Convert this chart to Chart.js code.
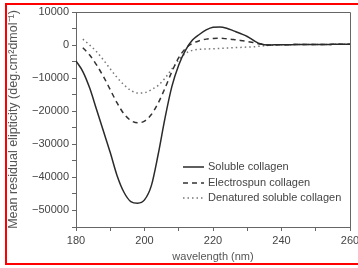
<!DOCTYPE html>
<html lang="en">
<head>
    <meta charset="UTF-8">
    <title>CD spectra of collagen</title>
    <script src="https://cdn.jsdelivr.net/npm/chart.js"></script>
    <style>
        html, body { margin: 0; padding: 0; background: #fff; overflow: hidden; }
        #wrap { position: relative; width: 358px; height: 268px; overflow: hidden; }
        #frame {
            position: absolute; left: 5px; top: 3px; width: 420px; height: 258px;
            border: 2px solid #f00; pointer-events: none;
        }
    </style>
</head>
<body>
<div id="wrap">
    <canvas id="myChart" width="358" height="268"></canvas>
    <div id="frame"></div>
</div>
<script>
    // wavelength (nm)
    const wavelengths = [180, 182, 184, 186, 188, 190, 192, 194, 196, 198,
                         200, 202, 204, 206, 208, 210, 212, 214, 216, 218,
                         220, 222, 224, 226, 228, 230, 232, 234, 236, 238,
                         240, 242, 244, 246, 248, 250, 252, 254, 256, 258, 260];

    const soluble = [-4800, -8000, -13000, -19500, -26000, -32500, -39500, -44500, -47300, -47800,
                     -46800, -42500, -33000, -22000, -12500, -6000, -1500, 1500, 3200, 4600,
                     5400, 5500, 5100, 4300, 3500, 2600, 1300, 300, 0, 100,
                     100, 100, 150, 150, 150, 200, 200, 200, 250, 250, 250];

    const electrospun = [null, -800, -3000, -6000, -9500, -13500, -17500, -20800, -22800, -23500,
                         -23000, -21000, -17500, -13000, -8000, -3800, -1000, 500, 1300, 1800,
                         2000, 2050, 1900, 1700, 1400, 1100, 700, 300, 0, 100,
                         100, 100, 150, 150, 150, 200, 200, 200, 250, 250, 250];

    const denatured = [null, 1800, 0, -2000, -4500, -7200, -9800, -12000, -13700, -14500,
                       -14400, -13500, -12200, -10000, -7200, -4500, -2500, -1600, -1300, -1200,
                       -1100, -1000, -900, -800, -700, -600, -500, -300, -100, 0,
                       100, 100, 150, 150, 150, 200, 200, 200, 250, 250, 250];

    const seriesNames = ['Soluble collagen', 'Electrospun collagen', 'Denatured soluble collagen'];

    const xTicks = [180, 200, 220, 240, 260];
    const yTicks = [10000, 0, -10000, -20000, -30000, -40000, -50000];

    const FONT = 'Liberation Sans, Arial, sans-serif';

    function pts(vals) {
        return wavelengths.map((w, i) => ({ x: w, y: vals[i] }));
    }

    // frame on top/right + legend inside the plot
    const boxAndLegend = {
        id: 'boxAndLegend',
        afterDraw(chart) {
            const ctx = chart.ctx;
            const a = chart.chartArea;
            ctx.save();
            ctx.strokeStyle = '#666';
            ctx.lineWidth = 1;
            ctx.beginPath();
            ctx.moveTo(a.left, a.top + 0.5);
            ctx.lineTo(a.right + 0.5, a.top + 0.5);
            ctx.lineTo(a.right + 0.5, a.bottom);
            ctx.stroke();

            const rows = [167, 183, 198];
            ctx.font = '11px ' + FONT;
            ctx.textBaseline = 'middle';
            chart.data.datasets.forEach((ds, i) => {
                const y = rows[i];
                ctx.strokeStyle = ds.borderColor;
                ctx.lineWidth = ds.borderWidth;
                ctx.setLineDash(ds.borderDash || []);
                ctx.beginPath();
                ctx.moveTo(183, y);
                ctx.lineTo(204, y);
                ctx.stroke();
                ctx.setLineDash([]);
                ctx.fillStyle = '#444';
                ctx.fillText(ds.label, 208, y);
            });
            ctx.restore();
        }
    };

    const ctx = document.getElementById('myChart').getContext('2d');
    new Chart(ctx, {
        type: 'line',
        data: {
            datasets: [{
                label: seriesNames[0],
                data: pts(soluble),
                borderColor: '#2a2a2a',
                borderWidth: 1.5,
                pointRadius: 0,
                cubicInterpolationMode: 'monotone'
            }, {
                label: seriesNames[1],
                data: pts(electrospun),
                borderColor: '#333',
                borderWidth: 1.5,
                borderDash: [5, 4],
                pointRadius: 0,
                cubicInterpolationMode: 'monotone'
            }, {
                label: seriesNames[2],
                data: pts(denatured),
                borderColor: '#777',
                borderWidth: 1.5,
                borderDash: [1.5, 3],
                pointRadius: 0,
                cubicInterpolationMode: 'monotone'
            }]
        },
        options: {
            responsive: false,
            animation: false,
            layout: { padding: { top: 12, right: 8, left: 0, bottom: 0 } },
            plugins: {
                legend: { display: false },
                tooltip: { enabled: false }
            },
            scales: {
                x: {
                    type: 'linear',
                    min: 180,
                    max: 260,
                    border: { color: '#666', width: 1 },
                    grid: { drawOnChartArea: false, tickLength: 4, color: '#666' },
                    ticks: {
                        stepSize: 10,
                        autoSkip: false,
                        maxRotation: 0,
                        color: '#444',
                        font: { family: FONT, size: 11 },
                        callback: v => xTicks.includes(v) ? String(v) : ''
                    },
                    title: {
                        display: true,
                        text: 'wavelength (nm)',
                        color: '#555',
                        font: { family: FONT, size: 11 },
                        padding: { top: 2, bottom: 4 }
                    },
                    afterFit: s => { s.height = 41; s.paddingRight = 0; s.paddingLeft = 0; }
                },
                y: {
                    min: -55000,
                    max: 10000,
                    border: { color: '#666', width: 1 },
                    grid: { drawOnChartArea: false, tickLength: 4, color: '#666' },
                    ticks: {
                        stepSize: 5000,
                        autoSkip: false,
                        color: '#444',
                        font: { family: FONT, size: 11 },
                        callback: v => yTicks.includes(v) ? (v < 0 ? '\u2212' + Math.abs(v) : String(v)) : ''
                    },
                    title: {
                        display: true,
                        text: 'Mean residual elipticity (deg.cm\u00b2dmol\u207b\u00b9)',
                        color: '#555',
                        font: { family: FONT, size: 12.5 },
                        padding: { top: 6, bottom: 2 }
                    },
                    afterFit: s => { s.width = 76; s.paddingTop = 0; s.paddingBottom = 0; }
                }
            }
        },
        plugins: [boxAndLegend]
    });
</script>
</body>
</html>
